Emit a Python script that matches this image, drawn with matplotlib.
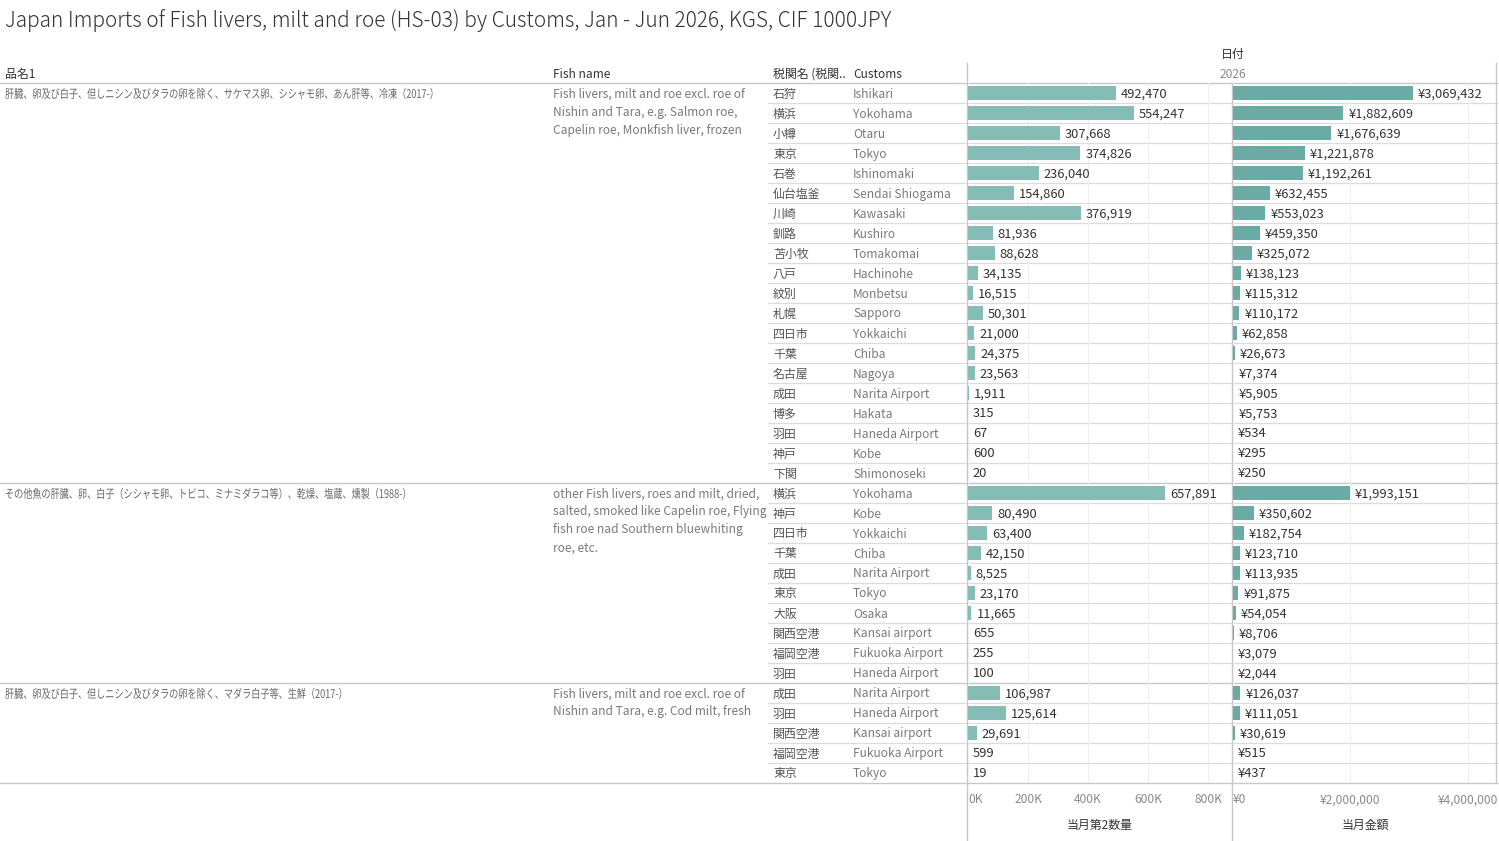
import matplotlib
matplotlib.use("Agg")
import matplotlib.pyplot as plt
from matplotlib.textpath import TextPath
from matplotlib.patches import PathPatch
from matplotlib.font_manager import FontProperties
from matplotlib.transforms import Affine2D

plt.rcParams["font.family"] = ["Noto Sans CJK JP", "DejaVu Sans"]

# ---- data ----
GROUP_JP = [
    "肝臓、卵及び白子、但しニシン及びタラの卵を除く、サケマス卵、シシャモ卵、あん肝等、冷凍（2017-）",
    "その他魚の肝臓、卵、白子（シシャモ卵、トビコ、ミナミダラコ等）、乾燥、塩蔵、燻製（1988-）",
    "肝臓、卵及び白子、但しニシン及びタラの卵を除く、マダラ白子等、生鮮（2017-）",
]
GROUP_EN = [
    ["Fish livers, milt and roe excl. roe of", "Nishin and Tara, e.g. Salmon roe,",
     "Capelin roe, Monkfish liver, frozen"],
    ["other Fish livers, roes and milt, dried,", "salted, smoked like Capelin roe, Flying",
     "fish roe nad Southern bluewhiting", "roe, etc."],
    ["Fish livers, milt and roe excl. roe of", "Nishin and Tara, e.g. Cod milt, fresh"],
]
GROUP_SIZE = [20, 10, 5]

customs_jp = ["石狩", "横浜", "小樽", "東京", "石巻", "仙台塩釜", "川崎", "釧路", "苫小牧", "八戸",
              "紋別", "札幌", "四日市", "千葉", "名古屋", "成田", "博多", "羽田", "神戸", "下関",
              "横浜", "神戸", "四日市", "千葉", "成田", "東京", "大阪", "関西空港", "福岡空港", "羽田",
              "成田", "羽田", "関西空港", "福岡空港", "東京"]
customs_en = ["Ishikari", "Yokohama", "Otaru", "Tokyo", "Ishinomaki", "Sendai Shiogama", "Kawasaki",
              "Kushiro", "Tomakomai", "Hachinohe", "Monbetsu", "Sapporo", "Yokkaichi", "Chiba",
              "Nagoya", "Narita Airport", "Hakata", "Haneda Airport", "Kobe", "Shimonoseki",
              "Yokohama", "Kobe", "Yokkaichi", "Chiba", "Narita Airport", "Tokyo", "Osaka",
              "Kansai airport", "Fukuoka Airport", "Haneda Airport",
              "Narita Airport", "Haneda Airport", "Kansai airport", "Fukuoka Airport", "Tokyo"]
qty = [492470, 554247, 307668, 374826, 236040, 154860, 376919, 81936, 88628, 34135,
       16515, 50301, 21000, 24375, 23563, 1911, 315, 67, 600, 20,
       657891, 80490, 63400, 42150, 8525, 23170, 11665, 655, 255, 100,
       106987, 125614, 29691, 599, 19]
amount = [3069432, 1882609, 1676639, 1221878, 1192261, 632455, 553023, 459350, 325072, 138123,
          115312, 110172, 62858, 26673, 7374, 5905, 5753, 534, 295, 250,
          1993151, 350602, 182754, 123710, 113935, 91875, 54054, 8706, 3079, 2044,
          126037, 111051, 30619, 515, 437]

QTY_TICKS = [0, 200000, 400000, 600000, 800000]
QTY_TICKLABELS = ["0K", "200K", "400K", "600K", "800K"]
AMT_TICKS = [0, 2000000, 4000000]
AMT_TICKLABELS = ["¥0", "¥2,000,000", "¥4,000,000"]

# ---- style ----
W, H = 1499, 841
C_QTY, C_AMT = "#86bcb6", "#6aaba5"
INK, INK2, INK3 = "#333333", "#666666", "#7a7a7a"
LINE, LINE2, GRID = "#c8c8c8", "#dcdcdc", "#efefef"
FS = 8.6
FS_VAL = 9.3
TOP, ROW = 83, 20
n = len(qty)
BOTTOM = TOP + ROW * n
L0, PW = 968, 264
R0 = 1233
DY = 1  # small vertical nudge for text centring

fig = plt.figure(figsize=(W / 100, H / 100), dpi=100)
bg = fig.add_axes([0, 0, 1, 1])
bg.set_xlim(0, W); bg.set_ylim(H, 0); bg.axis("off")

bg.text(5, 21, "Japan Imports of Fish livers, milt and roe (HS-03) by Customs, Jan - Jun 2026, KGS, CIF 1000JPY",
        fontsize=15, color=INK, va="center", ha="left", fontweight="light")

# header
bg.text((L0 + R0 + PW) / 2, 53 + DY, "日付", fontsize=FS, color=INK, ha="center", va="center")
bg.text((L0 + R0 + PW) / 2, 73 + DY, "2026", fontsize=FS, color="#8a8a8a", ha="center", va="center")
for x, s in [(5, "品名1"), (553, "Fish name"), (773, "税関名 (税関.."), (853, "Customs")]:
    bg.text(x, 73 + DY, s, fontsize=FS, color=INK, ha="left", va="center")

# condensed japanese description (the original font is narrow)
jp_font = FontProperties(family="Noto Sans CJK JP")


def condensed_text(x, y_base, s, size=12, sx=0.76):
    tp = TextPath((0, 0), s, size=size, prop=jp_font)
    tr = Affine2D().scale(sx, -1).translate(x, y_base)
    bg.add_patch(PathPatch(tr.transform_path(tp), facecolor=INK2, edgecolor="none", lw=0))


# lines and group labels
bg.plot([0, W], [TOP, TOP], color=LINE, lw=1)
start = 0
for g, size in enumerate(GROUP_SIZE):
    y0 = TOP + ROW * start
    condensed_text(5, y0 + 15, GROUP_JP[g])
    for k, line in enumerate(GROUP_EN[g]):
        bg.text(553, y0 + 10 + DY + 18 * k, line, fontsize=FS, color=INK3, ha="left", va="center")
    for r in range(1, size):
        yy = y0 + ROW * r
        bg.plot([768, W], [yy, yy], color=LINE2, lw=0.9)
    start += size
    yy = TOP + ROW * start
    bg.plot([0, W], [yy, yy], color=LINE, lw=1)

for i in range(n):
    y = TOP + ROW * i + 10 + DY
    bg.text(773, y, customs_jp[i], fontsize=FS, color="#555555", ha="left", va="center")
    bg.text(853, y, customs_en[i], fontsize=FS, color=INK3, ha="left", va="center")

bg.plot([L0 - 0.5, L0 - 0.5], [63, H], color=LINE, lw=1)
bg.plot([R0 - 0.5, R0 - 0.5], [TOP, H], color=LINE, lw=1)
bg.plot([R0 + PW - 0.5, R0 + PW - 0.5], [63, BOTTOM], color=LINE, lw=1)

# bar panels
panels = [(L0, qty, C_QTY, 880000, QTY_TICKS, QTY_TICKLABELS, "{:,}", "当月第2数量"),
          (R0, amount, C_AMT, 4500000, AMT_TICKS, AMT_TICKLABELS, "¥{:,}", "当月金額")]
for x0, vals, color, xmax, ticks, ticklabels, fmt, title in panels:
    ax = fig.add_axes([x0 / W, (H - BOTTOM) / H, PW / W, ROW * n / H])
    ax.set_facecolor("none")
    ax.barh(range(n), vals, height=0.7, color=color, zorder=3)
    for i, v in enumerate(vals):
        ax.annotate(fmt.format(v), (v, i), xytext=(3.5, -0.7), textcoords="offset points",
                    ha="left", va="center", fontsize=FS_VAL, color=INK, zorder=4)
    ax.set_xlim(0, xmax)
    ax.set_ylim(n - 0.5, -0.5)
    ax.set_yticks([])
    ax.set_xticks(ticks)
    ax.set_xticklabels(ticklabels)
    ax.tick_params(axis="x", length=0, pad=7.5, labelsize=FS, labelcolor="#8a8a8a")
    ax.get_xticklabels()[0].set_ha("left")
    ax.grid(axis="x", color=GRID, lw=0.8, zorder=0)
    for sp in ax.spines.values():
        sp.set_visible(False)
    bg.text(x0 + PW / 2, 824 + DY, title, fontsize=FS, color=INK, ha="center", va="center")

fig.savefig("out.png", dpi=100)
